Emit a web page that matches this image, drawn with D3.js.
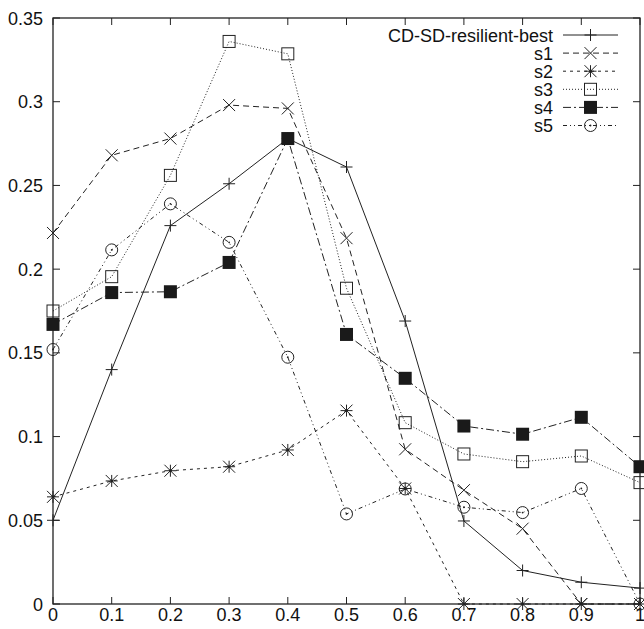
<!DOCTYPE html>
<html><head><meta charset="utf-8">
<script src="https://cdn.jsdelivr.net/npm/d3@7"></script>
<style>body{margin:0;background:#fff}svg{display:block}text{font-family:"Liberation Sans",Arial,sans-serif;fill:#111}</style>
</head><body><svg id="c" width="644" height="629"></svg>
<script>
const xValues = [0,0.1,0.2,0.3,0.4,0.5,0.6,0.7,0.8,0.9,1.0];
const xTicks = [0,0.1,0.2,0.3,0.4,0.5,0.6,0.7,0.8,0.9,1];
const yTicks = [0,0.05,0.1,0.15,0.2,0.25,0.3,0.35];
const seriesNames = ["CD-SD-resilient-best","s1","s2","s3","s4","s5"];
const best = [0.050,0.140,0.226,0.251,0.278,0.261,0.169,0.0496,0.020,0.013,0.0095];
const s1 = [0.2216,0.268,0.278,0.298,0.296,0.2185,0.0924,0.068,0.045,0,0];
const s2 = [0.064,0.0735,0.0796,0.082,0.092,0.1155,0.069,0,0,0,0];
const s3 = [0.175,0.1955,0.256,0.336,0.3286,0.1886,0.1083,0.0896,0.085,0.0884,0.0725];
const s4 = [0.167,0.186,0.1865,0.204,0.278,0.161,0.1348,0.1063,0.1014,0.1115,0.082];
const s5 = [0.152,0.2115,0.239,0.216,0.1474,0.0538,0.0687,0.0578,0.0546,0.069,0];
const seriesData = [best,s1,s2,s3,s4,s5];
const dashes = [null,"6,4","3,4","1,2","8,3,2,3","4,3,1,3,1,3"];
const markers = ["plus","cross","star","square","filled","circle"];

const svg = d3.select("#c");
const L=53,R=640,T=18,B=604;
const x = d3.scaleLinear().domain([0,1]).range([L,R]);
const y = d3.scaleLinear().domain([0,0.35]).range([B,T]);
const ink="#222";
const fs=18;

const g = svg.append("g");
xTicks.forEach(t=>{
  g.append("line").attr("x1",x(t)).attr("x2",x(t)).attr("y1",B).attr("y2",B-7).attr("stroke",ink);
  g.append("line").attr("x1",x(t)).attr("x2",x(t)).attr("y1",T).attr("y2",T+7).attr("stroke",ink);
  g.append("text").attr("x",x(t)).attr("y",B+17).attr("text-anchor","middle").attr("font-size",fs).text(d3.format("")(t));
});
yTicks.forEach(t=>{
  g.append("line").attr("x1",L).attr("x2",L+7).attr("y1",y(t)).attr("y2",y(t)).attr("stroke",ink);
  g.append("line").attr("x1",R).attr("x2",R-7).attr("y1",y(t)).attr("y2",y(t)).attr("stroke",ink);
  g.append("text").attr("x",43).attr("y",y(t)+6.5).attr("text-anchor","end").attr("font-size",fs).text(d3.format("")(t));
});
svg.append("rect").attr("x",L).attr("y",T).attr("width",R-L).attr("height",B-T).attr("fill","none").attr("stroke",ink).attr("stroke-width",1.3);

function drawMarker(sel,type,cx,cy){
  const s=6;
  if(type==="plus"){
    sel.append("path").attr("d",`M${cx-s},${cy}H${cx+s}M${cx},${cy-s}V${cy+s}`).attr("stroke",ink).attr("fill","none");
  } else if(type==="cross"){
    sel.append("path").attr("d",`M${cx-s},${cy-s}L${cx+s},${cy+s}M${cx-s},${cy+s}L${cx+s},${cy-s}`).attr("stroke",ink).attr("fill","none");
  } else if(type==="star"){
    sel.append("path").attr("d",`M${cx-s},${cy-s}L${cx+s},${cy+s}M${cx-s},${cy+s}L${cx+s},${cy-s}M${cx},${cy-s}V${cy+s}M${cx-s},${cy}H${cx+s}`).attr("stroke",ink).attr("fill","none");
    sel.append("circle").attr("cx",cx).attr("cy",cy).attr("r",1.5).attr("fill",ink);
  } else if(type==="square"){
    sel.append("rect").attr("x",cx-s).attr("y",cy-s).attr("width",2*s).attr("height",2*s).attr("fill","none").attr("stroke",ink);
  } else if(type==="filled"){
    sel.append("rect").attr("x",cx-6.5).attr("y",cy-6.5).attr("width",13).attr("height",13).attr("fill","#1a1a1a");
  } else if(type==="circle"){
    sel.append("circle").attr("cx",cx).attr("cy",cy).attr("r",s).attr("fill","none").attr("stroke",ink);
    sel.append("circle").attr("cx",cx).attr("cy",cy).attr("r",0.9).attr("fill",ink);
  }
}

const line = d3.line().x((d,i)=>x(xValues[i])).y(d=>y(d));
seriesData.forEach((data,k)=>{
  const gg = svg.append("g");
  const p = gg.append("path").attr("d",line(data)).attr("fill","none").attr("stroke",ink).attr("stroke-width",1);
  if(dashes[k]) p.attr("stroke-dasharray",dashes[k]);
  data.forEach((v,i)=>drawMarker(gg,markers[k],x(xValues[i]),y(v)));
});

const lg = svg.append("g");
seriesNames.forEach((name,k)=>{
  const ly = 35 + k*18.1;
  lg.append("text").attr("x",553).attr("y",ly+6.5).attr("text-anchor","end").attr("font-size",fs).text(name);
  const l = lg.append("line").attr("x1",563).attr("x2",618).attr("y1",ly).attr("y2",ly).attr("stroke",ink).attr("stroke-width",1);
  if(dashes[k]) l.attr("stroke-dasharray",dashes[k]);
  drawMarker(lg,markers[k],590.5,ly);
});
</script></body></html>
